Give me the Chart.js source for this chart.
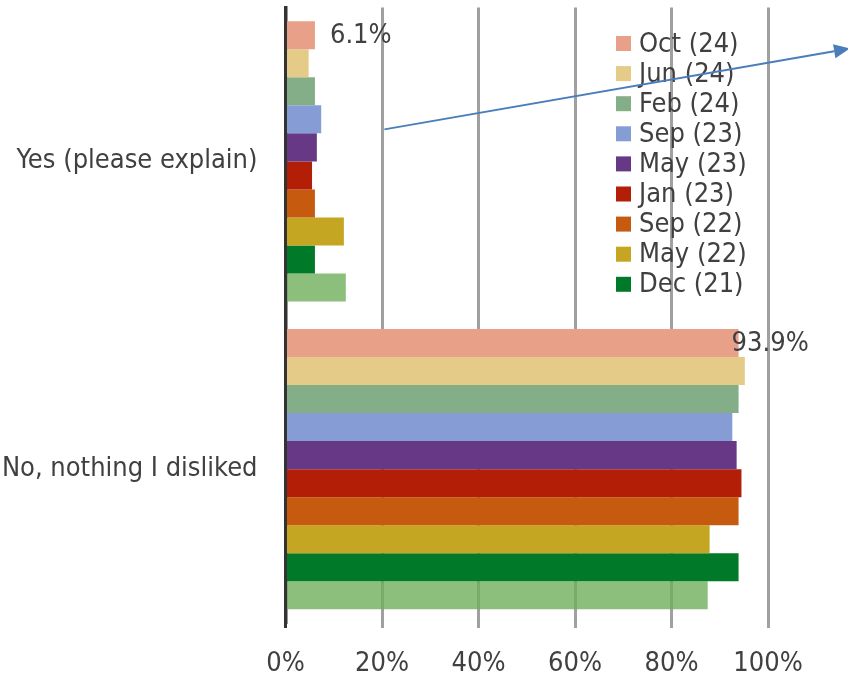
<!DOCTYPE html>
<html>
<head>
<meta charset="utf-8">
<style>
  html, body { margin: 0; padding: 0; background: #fff; overflow: hidden; }
  #wrap { width: 848px; height: 674px; position: relative; }
</style>
<script src="https://cdn.jsdelivr.net/npm/chart.js@4/dist/chart.umd.min.js"></script>
</head>
<body>
<div id="wrap"><canvas id="chart" width="848" height="674"></canvas></div>
<script>
// Answer options (one bar group each)
const categories = ['Yes (please explain)', 'No, nothing I disliked'];

// Survey waves, newest first
const waves = ['Oct (24)', 'Jun (24)', 'Feb (24)', 'Sep (23)', 'May (23)', 'Jan (23)', 'Sep (22)', 'May (22)', 'Dec (21)', 'Earlier wave'];

// Share of respondents per wave: [Yes, No]
const octPct24 = [0.061, 0.939];
const junPct24 = [0.048, 0.952];
const febPct24 = [0.061, 0.939];
const sepPct23 = [0.074, 0.926];
const mayPct23 = [0.065, 0.935];
const janPct23 = [0.055, 0.945];
const sepPct22 = [0.061, 0.939];
const mayPct22 = [0.121, 0.879];
const decPct21 = [0.061, 0.939];
const earlierPct = [0.125, 0.875];

// X-axis tick values
const xTicks = [0, 0.2, 0.4, 0.6, 0.8, 1.0];

const seriesValues = [octPct24, junPct24, febPct24, sepPct23, mayPct23, janPct23, sepPct22, mayPct22, decPct21, earlierPct];
const seriesColors = ['#e8a088', '#e4cc88', '#84ae88', '#869cd4', '#673886', '#b21f06', '#c65b10', '#c4a622', '#007a28', 'rgba(110,175,90,0.8)'];

const FONT = '"DejaVu Sans Condensed", "DejaVu Sans", sans-serif';
const FONT_SIZE = 27;
const TEXT = '#404040';
const LEGEND_ITEMS = 9;

const pct = v => (v * 100).toFixed(1) + '%';

// Value labels for the newest wave
const valueLabels = {
  id: 'valueLabels',
  afterDatasetsDraw(chart) {
    const ctx = chart.ctx;
    const meta = chart.getDatasetMeta(0);
    const offsets = [15, -7];
    ctx.save();
    ctx.font = FONT_SIZE + 'px ' + FONT;
    ctx.fillStyle = TEXT;
    ctx.textAlign = 'left';
    ctx.textBaseline = 'middle';
    meta.data.forEach((bar, i) => {
      ctx.fillText(pct(chart.data.datasets[0].data[i]), bar.x + offsets[i], bar.y + 1);
    });
    ctx.restore();
  }
};

// Legend drawn over the plot, top right
const innerLegend = {
  id: 'innerLegend',
  afterDraw(chart) {
    const ctx = chart.ctx;
    const x0 = chart.chartArea.right - 152;
    const y0 = chart.chartArea.top + 36;
    const row = 30.1;
    ctx.save();
    ctx.font = FONT_SIZE + 'px ' + FONT;
    ctx.textBaseline = 'middle';
    ctx.textAlign = 'left';
    chart.data.datasets.slice(0, LEGEND_ITEMS).forEach((ds, i) => {
      const cy = y0 + i * row;
      ctx.fillStyle = ds.backgroundColor;
      ctx.fillRect(x0, cy - 7.5, 15, 15);
      ctx.fillStyle = TEXT;
      ctx.fillText(ds.label, x0 + 23, cy + 1);
    });
    ctx.restore();
  }
};

// Blue pointer arrow running off to the right
const pointerArrow = {
  id: 'pointerArrow',
  afterDraw(chart) {
    const ctx = chart.ctx;
    const xs = chart.scales.x, ys = chart.scales.y;
    const x1 = xs.getPixelForValue(0.205);
    const y1 = ys.getPixelForValue(0) - 32;
    const x2 = chart.width + 2;
    const y2 = chart.chartArea.top + 41;
    const ang = Math.atan2(y2 - y1, x2 - x1);
    const len = 16, half = 7;
    const bx = x2 - len * Math.cos(ang), by = y2 - len * Math.sin(ang);
    ctx.save();
    ctx.strokeStyle = '#4a7ebb';
    ctx.fillStyle = '#4a7ebb';
    ctx.lineWidth = 2;
    ctx.beginPath();
    ctx.moveTo(x1, y1);
    ctx.lineTo(bx, by);
    ctx.stroke();
    ctx.beginPath();
    ctx.moveTo(x2, y2);
    ctx.lineTo(bx + half * Math.sin(ang), by - half * Math.cos(ang));
    ctx.lineTo(bx - half * Math.sin(ang), by + half * Math.cos(ang));
    ctx.closePath();
    ctx.fill();
    ctx.restore();
  }
};

new Chart(document.getElementById('chart'), {
  type: 'bar',
  data: {
    labels: categories,
    datasets: waves.map((w, i) => ({
      label: w,
      data: seriesValues[i],
      backgroundColor: seriesColors[i],
      borderWidth: 0,
      categoryPercentage: 0.91,
      barPercentage: 1.0
    }))
  },
  options: {
    indexAxis: 'y',
    responsive: false,
    animation: false,
    devicePixelRatio: 1,
    layout: { padding: { top: 7.5, right: 80, left: 0, bottom: 0 } },
    plugins: {
      legend: { display: false },
      tooltip: { enabled: false }
    },
    scales: {
      x: {
        min: 0,
        max: 1,
        afterBuildTicks(scale) { scale.ticks = xTicks.map(v => ({ value: v })); },
        afterFit(scale) {
          scale.height = 51;
          scale.paddingLeft = 0;
          scale.paddingRight = 0;
        },
        ticks: {
          callback: v => Math.round(v * 100) + '%',
          color: TEXT,
          font: { family: FONT, size: FONT_SIZE },
          padding: 20,
          maxRotation: 0
        },
        grid: {
          color: ctx => ctx.tick && ctx.tick.value === 0 ? '#333333' : '#a0a0a0',
          lineWidth: 3,
          drawTicks: true,
          tickLength: 5
        },
        border: { display: false }
      },
      y: {
        afterFit(scale) {
          scale.width = 285.5;
          scale.paddingTop = 0;
          scale.paddingBottom = 0;
        },
        ticks: {
          color: TEXT,
          font: { family: FONT, size: FONT_SIZE },
          padding: 28
        },
        grid: { display: false, drawTicks: false },
        border: { display: true, color: '#333333', width: 3.5 }
      }
    }
  },
  plugins: [valueLabels, innerLegend, pointerArrow]
});
</script>
</body>
</html>
